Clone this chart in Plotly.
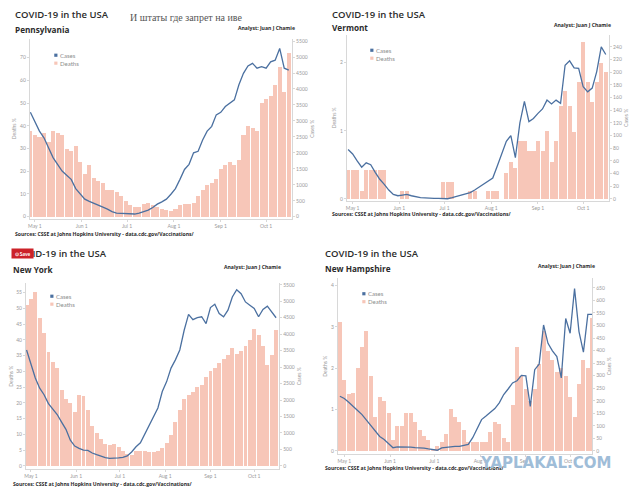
import pandas as pd
import plotly.graph_objects as go

# one sample every 3 days, Apr 28 - Oct 16 2021
dates = pd.date_range("2021-04-28", "2021-10-16", freq="3D")

pa_deaths = [38, 36, 35, 37, 33, 38, 37, 36, 30, 29, 31, 24, 19, 23, 17, 16, 15, 12, 12, 11,
             9, 7, 5, 4.5, 4.5, 5.5, 6, 5, 4.5, 3.5, 3, 2.5, 3.5, 5, 5.5, 5.5, 6, 9, 12, 14,
             15, 16.5, 21, 23, 24, 23, 25, 36, 40, 39, 38, 50, 52, 53, 58, 66, 55, 72]
pa_cases = [3270, 2990, 2680, 2470, 2130, 1850, 1640, 1430, 1300, 1170, 880, 700, 550, 480, 415,
            340, 300, 240, 160, 115, 105, 95, 95, 85, 115, 155, 205, 290, 395, 465, 550, 705,
            880, 1170, 1480, 1640, 2000, 2050, 2400, 2680, 2830, 3190, 3270, 3450, 3560, 3660,
            4130, 4490, 4720, 4800, 4650, 4700, 4650, 4850, 4900, 5270, 4650, 4590]

vt_deaths = [0.42, 0.42, 0.42, 0.12, 0.42, 0.42, 0.42, 0.42, 0.42, 0, 0, 0, 0.11, 0.11, 0, 0, 0,
             0, 0, 0, 0, 0.25, 0.25, 0.25, 0, 0, 0, 0.11, 0.11, 0, 0, 0.11, 0.11, 0.11, 0, 0.38,
             0.55, 0.45, 0.85, 0.85, 0.7, 0.7, 0.85, 0.7, 1.0, 0.55, 0.85, 1.36, 1.58, 1.36,
             0.99, 1.72, 2.3, 1.72, 1.43, 1.72, 2.0, 1.87]
vt_cases = [78, 71, 60, 50, 57, 54, 42, 31, 23, 14, 7, 5, 6, 7, 5, 3, 2, 1.6, 1, 1, 1, 0.5, 0.3,
            2, 4, 7, 9, 10, 14, 19, 23, 28, 33, 52, 70, 91, 100, 65, 120, 154, 122, 127, 135,
            142, 156, 150, 156, 151, 211, 218, 207, 206, 177, 169, 175, 201, 240, 228]

ny_deaths = [51, 53, 55, 47, 42, 36, 33, 31, 24, 21, 20, 17, 22.5, 22, 17.5, 12.6, 10.5, 8.6, 7,
             6.5, 7, 6, 4.5, 3.7, 3.3, 4.5, 4.7, 4.5, 4.4, 4.4, 4.7, 5.5, 7.3, 9.8, 14, 17.5, 21,
             22.5, 23.5, 25, 25.5, 28, 30, 31, 32.5, 33.7, 35, 37.5, 35.5, 36.5, 38, 40, 43.5,
             41.5, 38, 32, 35, 43]
ny_cases = [3520, 3120, 2670, 2360, 2160, 1890, 1730, 1560, 1330, 1110, 780, 600, 530, 480, 470,
            390, 340, 290, 250, 230, 230, 240, 260, 300, 420, 580, 700, 955, 1230, 1510, 1760,
            2260, 2560, 2970, 3220, 3520, 4120, 4600, 4440, 4500, 4530, 4320, 4810, 4910, 4630,
            4530, 4730, 5130, 5350, 5230, 4980, 4880, 4780, 4530, 4750, 4850, 4680, 4500]

nh_deaths = [3.1, 1.7, 1.36, 1.4, 2.0, 2.5, 2.9, 1.8, 0.8, 1.3, 1.2, 0.9, 0.25, 0.6, 0.6, 0.9,
             0.9, 0.7, 0.5, 0.35, 0.25, 0.05, 0.1, 0.2, 0.4, 1.0, 0.8, 0.7, 0.5, 0.2, 0.2, 0.2,
             0.2, 0.2, 0.45, 0.7, 0.65, 0.3, 0.2, 1.1, 2.5, 1.8, 1.5, 1.2, 1.5, 2.1, 2.9, 2.4,
             2.2, 1.9, 2.0, 1.8, 1.3, 0.8, 1.6, 2.2, 2.0, 3.2]
nh_cases = [218, 209, 194, 176, 161, 145, 123, 99, 77, 58, 46, 29, 13, 16, 16, 17, 15, 13, 13,
            11, 8, 7, 3, 12, 15, 16, 18, 18, 21, 26, 53, 86, 125, 139, 155, 169, 192, 225, 247,
            271, 280, 301, 299, 178, 324, 346, 502, 429, 399, 376, 291, 528, 469, 647, 476, 394,
            544, 544]

month_ticks = ["2021-05-01", "2021-06-01", "2021-07-01", "2021-08-01", "2021-09-01", "2021-10-01"]

# the page puts the plot 8px in from the top-left corner of the window
OFF = 8
W, H = 640 - OFF, 494 - OFF


def fx(p):
    return (p - OFF) / W


def fy(p):
    return 1 - (p - OFF) / H


BAR = "#f7c6b8"
LINE = "#4b70a0"
AXC = "#d8d8d8"
TICK = "#9a9a9a"
DARK = "#2b2b2b"

panels = [
    dict(state="Pennsylvania", deaths=pa_deaths, cases=pa_cases,
         box=(28, 37, 291, 218), xr=("2021-04-27 17:00", "2021-10-18 05:00"),
         yl=(-0.9, 78.3), yr=(-62, 5570),
         tl=list(range(0, 71, 10)), tr=list(range(0, 5501, 500)),
         head=(12, 13, 28), analyst=(295, 26), src=(12, 233), leg=(54, 53.5)),
    dict(state="Vermont", deaths=vt_deaths, cases=vt_cases,
         box=(346, 33, 609, 200), xr=("2021-04-27 05:00", "2021-10-18 05:00"),
         yl=(-0.03, 2.41), yr=(-3, 259),
         tl=[0, 1, 2], tr=list(range(0, 241, 20)),
         head=(330, 12.5, 25.5), analyst=(612, 23), src=(330, 213.5), leg=(371, 48.5)),
    dict(state="New York", deaths=ny_deaths, cases=ny_cases,
         box=(24, 283, 278, 470), xr=("2021-04-27 14:00", "2021-10-18 02:00"),
         yl=(-1.04, 58), yr=(-100, 5546),
         tl=list(range(0, 56, 5)), tr=list(range(0, 5501, 500)),
         head=(10, 253, 269), analyst=(281, 267), src=(10, 485), leg=(50, 296)),
    dict(state="New Hampshire", deaths=nh_deaths, cases=nh_cases,
         box=(337, 278, 592, 455), xr=("2021-04-26 17:00", "2021-10-15 22:00"),
         yl=(-0.08, 4.17), yr=(-13, 688),
         tl=[0, 1, 2, 3, 4], tr=list(range(0, 651, 50)),
         head=(323, 253, 268), analyst=(596, 266), src=(323, 469), leg=(363, 293.5)),
]

fig = go.Figure()
annotations = []
shapes = []
layout = {}
three_days = 3 * 24 * 3600 * 1000


def note(x, y, text, size, color=DARK, family="Open Sans", weight="normal", anchor="left"):
    annotations.append(dict(x=fx(x), y=fy(y), xref="paper", yref="paper", text=text,
                            showarrow=False, xanchor=anchor, yanchor="middle", borderpad=0,
                            font=dict(family=family, size=size, color=color, weight=weight)))


for i, p in enumerate(panels):
    n = i + 1
    xid = "x" if n == 1 else f"x{n}"
    ylid = "y" if n == 1 else f"y{2 * n - 1}"
    yrid = f"y{2 * n}"
    fig.add_trace(go.Bar(x=dates, y=p["deaths"], name="Deaths", marker_color=BAR,
                         marker_line_width=0, width=0.9 * three_days,
                         xaxis=xid, yaxis=ylid, showlegend=False))
    fig.add_trace(go.Scatter(x=dates, y=p["cases"], name="Cases", mode="lines",
                             line=dict(color=LINE, width=1.3),
                             xaxis=xid, yaxis=yrid, showlegend=False))
    l, t, r, b = p["box"]
    common = dict(showgrid=False, zeroline=False, showline=True, linecolor=AXC, linewidth=1,
                  ticks="outside", ticklen=2, tickcolor=AXC,
                  tickfont=dict(family="Lato", size=5, color=TICK))
    layout["xaxis" if n == 1 else f"xaxis{n}"] = dict(
        domain=[fx(l), fx(r)], anchor=ylid, type="date", range=list(p["xr"]),
        tickvals=month_ticks, tickformat="%b %-d", **common)
    layout["yaxis" if n == 1 else f"yaxis{2 * n - 1}"] = dict(
        domain=[fy(b), fy(t)], anchor=xid, range=list(p["yl"]), tickvals=p["tl"],
        title=dict(text="Deaths %", font=dict(family="Lato", size=5, color=TICK), standoff=3),
        **common)
    layout[f"yaxis{2 * n}"] = dict(
        overlaying=ylid, side="right", anchor=xid, range=list(p["yr"]), tickvals=p["tr"],
        tickformat="d",
        title=dict(text="Cases %", font=dict(family="Lato", size=5, color=TICK), standoff=3),
        **common)

    hx, hy1, hy2 = p["head"]
    note(hx, hy1, "COVID-19 in the USA", 9.5, weight=600)
    note(hx, hy2, p["state"], 8.2, weight=700)
    ax, ay = p["analyst"]
    note(ax, ay, "Analyst: Juan J Chamie", 5.1, weight=700, anchor="right")
    sx, sy = p["src"]
    note(sx, sy, "Sources: CSSE at Johns Hopkins University - data.cdc.gov/Vaccinations/", 5.1,
         weight=700)

    # legend: coloured squares + labels
    gx, gy = p["leg"]
    for k, (lab, col) in enumerate([("Cases", LINE), ("Deaths", BAR)]):
        yy = gy + 8 * k
        shapes.append(dict(type="rect", xref="paper", yref="paper",
                           x0=fx(gx - 1.6), x1=fx(gx + 1.6), y0=fy(yy + 1.6), y1=fy(yy - 1.6),
                           fillcolor=col, line_width=0))
        note(gx + 3.5, yy, lab, 6, color="#8c8c8c", family="Lato")

note(127, 16, "И штаты где запрет на иве", 10, color="#555555", family="Liberation Serif")

# red "Save" overlay button on the New York header
annotations.append(dict(x=fx(9.5), y=fy(253.5), xref="paper", yref="paper", text="⊙ Save",
                        showarrow=False, xanchor="left", yanchor="middle", width=21, height=9,
                        bgcolor="#cc2229", borderpad=0,
                        font=dict(family="Lato", size=5, color="white", weight=700)))

# watermark
note(545, 463.5, "YAPLAKAL.COM", 15, color="#9fbdd8", family="DejaVu Sans", weight=700,
     anchor="center")

fig.update_layout(
    width=W, height=H,
    margin=dict(l=0, r=0, t=0, b=0),
    paper_bgcolor="white", plot_bgcolor="white",
    bargap=0, showlegend=False,
    annotations=annotations, shapes=shapes,
    **layout,
)

fig.write_html("out.html")
